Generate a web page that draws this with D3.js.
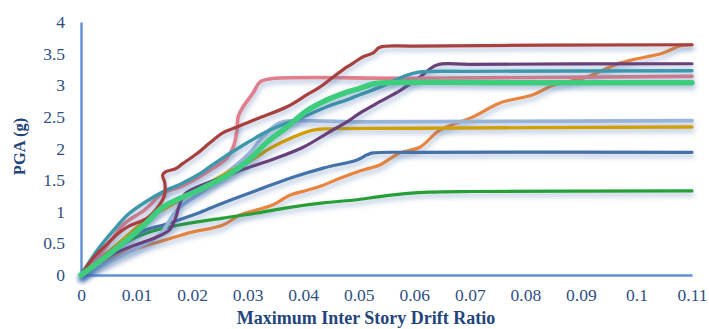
<!DOCTYPE html>
<html>
<head>
<meta charset="utf-8">
<script src="https://cdn.jsdelivr.net/npm/d3@7/dist/d3.min.js"></script>
<style>
  html, body { margin: 0; padding: 0; background: #fff; }
  svg { display: block; }
</style>
</head>
<body>
<svg id="chart" width="709" height="329"></svg>
<script>
// Pushover curves: PGA (g) against maximum inter-story drift ratio
const xTicks = [0, 0.01, 0.02, 0.03, 0.04, 0.05, 0.06, 0.07, 0.08, 0.09, 0.1, 0.11];
const yTicks = [0, 0.5, 1, 1.5, 2, 2.5, 3, 3.5, 4];
const xTickLabels = ["0", "0.01", "0.02", "0.03", "0.04", "0.05", "0.06", "0.07", "0.08", "0.09", "0.1", "0.11"];
const yTickLabels = ["0", "0.5", "1", "1.5", "2", "2.5", "3", "3.5", "4"];

// each record: [drift ratio, PGA]
const orangeRecord = [[0,0],[0.004,0.18],[0.0079,0.35],[0.0115,0.46],[0.0155,0.56],[0.0196,0.67],[0.0256,0.79],[0.0286,0.95],[0.0317,1.03],[0.0346,1.11],[0.0376,1.26],[0.0407,1.34],[0.0436,1.42],[0.0466,1.53],[0.0497,1.63],[0.052,1.69],[0.0538,1.74],[0.0574,1.93],[0.061,2.02],[0.0646,2.29],[0.0706,2.5],[0.0754,2.72],[0.0814,2.85],[0.085,3.0],[0.0911,3.13],[0.097,3.35],[0.1048,3.51],[0.1078,3.62],[0.11,3.64]];
const darkGreenRecord = [[0,0],[0.005,0.35],[0.01,0.6],[0.0144,0.73],[0.0196,0.82],[0.0256,0.9],[0.0317,0.98],[0.0376,1.07],[0.0436,1.14],[0.0497,1.19],[0.0538,1.24],[0.0589,1.29],[0.0626,1.31],[0.07,1.32],[0.11,1.33]];
const blueRecord = [[0,0],[0.004,0.3],[0.0101,0.66],[0.0155,0.81],[0.0214,0.99],[0.0256,1.14],[0.0317,1.34],[0.0376,1.53],[0.0436,1.69],[0.0497,1.82],[0.0515,1.9],[0.0526,1.93],[0.06,1.94],[0.11,1.94]];
const lightBlueRecord = [[0,0],[0.005,0.2],[0.01,0.42],[0.0144,0.66],[0.0172,1.02],[0.0227,1.37],[0.0304,1.93],[0.0322,2.13],[0.0346,2.34],[0.0364,2.42],[0.05,2.42],[0.11,2.44]];
const goldRecord = [[0,0],[0.0054,0.4],[0.0119,0.88],[0.0178,1.18],[0.0214,1.37],[0.0268,1.64],[0.0304,1.8],[0.034,2.0],[0.0382,2.18],[0.0418,2.29],[0.044,2.31],[0.06,2.32],[0.11,2.34]];
const purpleRecord = [[0,0],[0.0052,0.3],[0.0099,0.48],[0.0137,0.6],[0.016,0.72],[0.0171,0.92],[0.0177,1.1],[0.0187,1.28],[0.0232,1.47],[0.0256,1.54],[0.0292,1.67],[0.0346,1.83],[0.04,2.02],[0.0443,2.24],[0.0484,2.45],[0.0502,2.56],[0.0538,2.74],[0.0575,2.92],[0.061,3.13],[0.0641,3.32],[0.07,3.33],[0.11,3.34]];
const pinkRecord = [[0,0],[0.0031,0.28],[0.0054,0.55],[0.0079,0.82],[0.0115,1.03],[0.0148,1.3],[0.0178,1.39],[0.0209,1.53],[0.0238,1.69],[0.0263,1.85],[0.0274,2.02],[0.0281,2.29],[0.0283,2.5],[0.0292,2.66],[0.031,2.88],[0.0322,3.05],[0.034,3.1],[0.06,3.11],[0.11,3.14]];
const tealRecord = [[0,0],[0.003,0.4],[0.0058,0.7],[0.0085,0.96],[0.0119,1.17],[0.0151,1.33],[0.0178,1.43],[0.0214,1.6],[0.0238,1.75],[0.0299,2.09],[0.034,2.29],[0.04,2.5],[0.0443,2.66],[0.0479,2.77],[0.0502,2.85],[0.0538,2.97],[0.0587,3.16],[0.061,3.21],[0.07,3.22],[0.11,3.23]];
const redRecord = [[0,0],[0.0022,0.27],[0.0054,0.55],[0.007,0.68],[0.0088,0.78],[0.0119,0.9],[0.0137,1.06],[0.015,1.25],[0.0151,1.45],[0.0147,1.58],[0.0152,1.63],[0.017,1.68],[0.0183,1.76],[0.0209,1.92],[0.0232,2.09],[0.0256,2.25],[0.0281,2.34],[0.0295,2.39],[0.0317,2.47],[0.0371,2.66],[0.0407,2.85],[0.043,2.97],[0.0454,3.13],[0.0479,3.29],[0.049,3.35],[0.0508,3.45],[0.0526,3.51],[0.0538,3.6],[0.06,3.62],[0.11,3.64]];
const greenRecord = [[0,0],[0.0054,0.35],[0.0115,0.8],[0.0148,1.08],[0.0209,1.33],[0.0268,1.6],[0.03,1.8],[0.0335,2.1],[0.0371,2.34],[0.0407,2.6],[0.0436,2.74],[0.0479,2.89],[0.0502,2.95],[0.0526,3.02],[0.0556,3.04],[0.08,3.04],[0.11,3.04]];

// drawing order, bottom to top
const seriesList = [
  { data: orangeRecord,    color: "#e8843a", width: 3.2 },
  { data: darkGreenRecord, color: "#28a035", width: 3.2 },
  { data: blueRecord,      color: "#4472a8", width: 3.2 },
  { data: lightBlueRecord, color: "#98b4d8", width: 3.8 },
  { data: goldRecord,      color: "#d19f00", width: 3.4 },
  { data: purpleRecord,    color: "#6b3f78", width: 3.2 },
  { data: pinkRecord,      color: "#e07f8b", width: 3.6 },
  { data: tealRecord,      color: "#3c98ab", width: 3.4 },
  { data: redRecord,       color: "#a8403c", width: 3.2 },
  { data: greenRecord,     color: "#3ccd7d", width: 5.5 }
];

const svg = d3.select("#chart");
const margin = { left: 81, right: 17, top: 22, bottom: 54 };
const W = 709, H = 329;

const x = d3.scaleLinear().domain([0, 0.11]).range([margin.left, W - margin.right]);
const y = d3.scaleLinear().domain([0, 4]).range([H - margin.bottom, margin.top]);

const defs = svg.append("defs");
const shadow = defs.append("filter").attr("id", "lineShadow")
  .attr("x", "-10%").attr("y", "-10%").attr("width", "120%").attr("height", "130%");
shadow.append("feDropShadow").attr("dx", 1).attr("dy", 3.5).attr("stdDeviation", 2.6)
  .attr("flood-color", "#3d68a8").attr("flood-opacity", 0.42);

const gridShadow = defs.append("filter").attr("id", "gridShadow")
  .attr("x", "-5%").attr("y", "-200%").attr("width", "110%").attr("height", "500%");
gridShadow.append("feDropShadow").attr("dx", 0).attr("dy", 2).attr("stdDeviation", 1.2)
  .attr("flood-color", "#9bb7d8").attr("flood-opacity", 0.4);

// horizontal gridlines
svg.append("g")
  .selectAll("line")
  .data(yTicks.filter(d => d > 0))
  .join("line")
  .attr("x1", x(0)).attr("x2", x(0.11))
  .attr("y1", d => y(d)).attr("y2", d => y(d))
  .attr("stroke", "#d5e5f3").attr("stroke-width", 1.8)
  .attr("filter", "url(#gridShadow)");

// axes
const xAxis = d3.axisBottom(x).tickValues(xTicks).tickFormat((d, i) => xTickLabels[i]).tickSize(0).tickPadding(14);
const yAxis = d3.axisLeft(y).tickValues(yTicks).tickFormat((d, i) => yTickLabels[i]).tickSize(0).tickPadding(16);

const gx = svg.append("g").attr("transform", `translate(0,${y(0)})`).call(xAxis);
const gy = svg.append("g").attr("transform", `translate(${x(0)},0)`).call(yAxis);

[gx, gy].forEach(g => {
  g.select(".domain").attr("stroke", "#5f90d4").attr("stroke-width", 2.4);
  g.selectAll("text")
    .attr("fill", "#2f4f82")
    .style("font-family", "'Liberation Serif', 'Times New Roman', serif")
    .style("font-size", "17.5px");
});
gx.selectAll("text").attr("dy", "0.71em");

// curves
const line = d3.line()
  .x(d => x(d[0]))
  .y(d => y(d[1]))
  .curve(d3.curveCatmullRom.alpha(0.5));

svg.append("g")
  .selectAll("path")
  .data(seriesList)
  .join("path")
  .attr("d", d => line(d.data))
  .attr("fill", "none")
  .attr("stroke", d => d.color)
  .attr("stroke-width", d => d.width)
  .attr("stroke-linejoin", "round")
  .attr("stroke-linecap", "round")
  .attr("filter", "url(#lineShadow)");

// axis titles
svg.append("text")
  .attr("x", 366)
  .attr("y", 324)
  .attr("text-anchor", "middle")
  .attr("fill", "#24457a")
  .style("font-family", "'Liberation Serif', 'Times New Roman', serif")
  .style("font-weight", "bold")
  .style("font-size", "18px")
  .text("Maximum Inter Story Drift Ratio");

svg.append("text")
  .attr("transform", `translate(25,${(y(0) + y(4)) / 2 - 2}) rotate(-90)`)
  .attr("text-anchor", "middle")
  .attr("fill", "#24457a")
  .style("font-family", "'Liberation Serif', 'Times New Roman', serif")
  .style("font-weight", "bold")
  .style("font-size", "16.5px")
  .text("PGA (g)");
</script>
</body>
</html>
